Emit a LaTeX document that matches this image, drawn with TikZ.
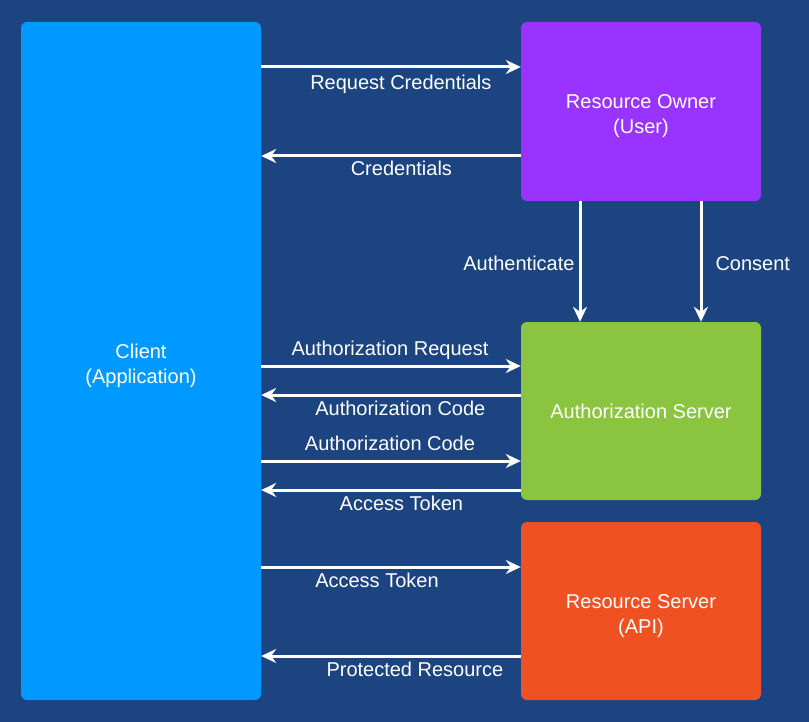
\documentclass[tikz,border=0pt]{standalone}
\usepackage{fontspec}
\setmainfont{Liberation Sans}
\usetikzlibrary{arrows.meta}
\definecolor{bgblue}{HTML}{1B4480}
\definecolor{clientblue}{HTML}{0099FF}
\definecolor{ownerpurple}{HTML}{9933FF}
\definecolor{authgreen}{HTML}{8BC53F}
\definecolor{resorange}{HTML}{F05122}
\newcommand{\topstrut}{\rule{0pt}{24pt}}
\begin{document}
\begin{tikzpicture}[x=1pt,y=-1pt,
    box/.style={rectangle,rounded corners=6pt,minimum width=240pt,text=white,align=center,font=\fontsize{20}{25}\selectfont},
    flow/.style={-{Stealth[length=15pt,width=14pt,inset=5pt]},draw=white,line width=3pt},
    lbl/.style={text=white,inner sep=0pt,font=\fontsize{20}{24}\selectfont},
    below lbl/.style={lbl,anchor=base,yshift=-20pt},
    above lbl/.style={lbl,anchor=base,yshift=11pt},
]
    \fill[bgblue] (0,0) rectangle (809,722);
    \node[box,fill=clientblue,minimum height=678pt] (client) at (141,361) {\topstrut Client\\(Application)};
    \node[box,fill=ownerpurple,minimum height=179pt] (owner) at (641,111.5) {\topstrut Resource Owner\\(User)};
    \node[box,fill=authgreen,minimum height=178pt] (auth) at (641,411) {Authorization Server};
    \node[box,fill=resorange,minimum height=178pt] (res) at (641,611) {\topstrut Resource Server\\(API)};
    % client and resource owner
    \draw[flow] (client.east |- 0,67) -- (owner.west |- 0,67) node[below lbl,pos=0.538,yshift=-3pt] {Request Credentials};
    \draw[flow] (owner.west |- 0,156) -- (client.east |- 0,156) node[below lbl,pos=0.46] {Credentials};
    % resource owner and authorization server
    \draw[flow] (owner.south -| 580,0) -- (auth.north -| 580,0) node[lbl,anchor=east,pos=0.517,xshift=-4pt] {Authenticate};
    \draw[flow] (owner.south -| 701,0) -- (auth.north -| 701,0) node[lbl,anchor=west,pos=0.517,xshift=13pt] {Consent};
    % client and authorization server
    \draw[flow] (client.east |- 0,366) -- (auth.west |- 0,366) node[above lbl,pos=0.496] {Authorization Request};
    \draw[flow] (auth.west |- 0,395) -- (client.east |- 0,395) node[below lbl,pos=0.464] {Authorization Code};
    \draw[flow] (client.east |- 0,461) -- (auth.west |- 0,461) node[above lbl,pos=0.496] {Authorization Code};
    \draw[flow] (auth.west |- 0,490) -- (client.east |- 0,490) node[below lbl,pos=0.46] {Access Token};
    % client and resource server
    \draw[flow] (client.east |- 0,567) -- (res.west |- 0,567) node[below lbl,pos=0.446] {Access Token};
    \draw[flow] (res.west |- 0,656) -- (client.east |- 0,656) node[below lbl,pos=0.408] {Protected Resource};
\end{tikzpicture}
\end{document}
